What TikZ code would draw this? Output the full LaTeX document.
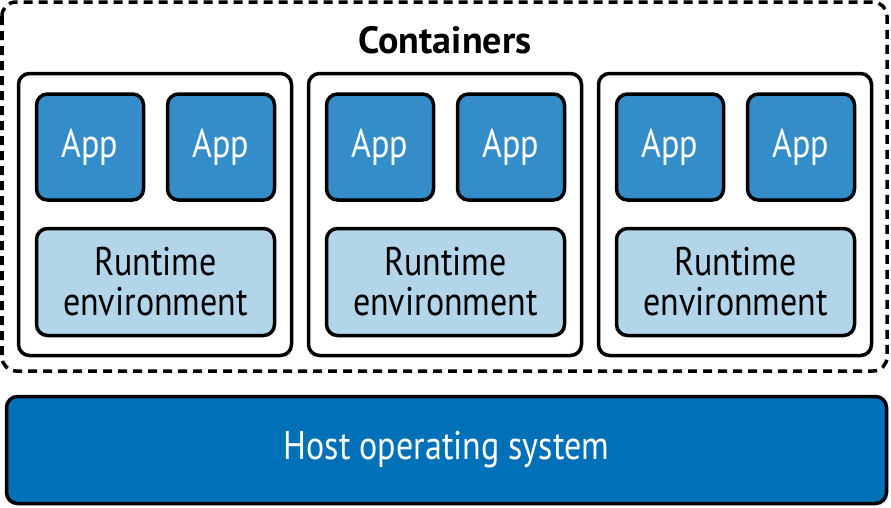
\documentclass[tikz,border=0pt]{standalone}
\usepackage{fontspec}
\setmainfont{PT Sans}[FakeStretch=0.85]
\newfontfamily\titlefont{PT Sans}
\definecolor{appblue}{RGB}{52,140,200}
\definecolor{rtblue}{RGB}{179,213,234}
\definecolor{hostblue}{RGB}{0,112,184}
\tikzset{
    box/.style={draw=black, line width=3.5pt, rounded corners=11pt, align=center, inner sep=0pt},
    appbox/.style={box, fill=appblue, text=white, minimum width=107pt, minimum height=106pt, font=\fontsize{40}{44}\selectfont},
    rtbox/.style={box, fill=rtblue, minimum width=238pt, minimum height=107pt, font=\fontsize{40}{40}\selectfont},
    cbox/.style={box, fill=white, minimum width=273pt, minimum height=282pt},
    hostbox/.style={box, fill=hostblue, text=white, minimum width=880pt, minimum height=107pt, font=\fontsize{40}{44}\selectfont},
}
\begin{document}
\begin{tikzpicture}[x=1pt, y=-1pt]
    \useasboundingbox (0,0) rectangle (891,507);

    % Dashed frame
    \draw[line width=3.5pt, dash pattern=on 9pt off 6pt, rounded corners=14pt] (2,2) rectangle (887,371);
    \node[font=\titlefont\bfseries\fontsize{38}{40}\selectfont] (title) at (445,40) {Containers};

    % Containers
    \foreach \i/\dx in {1/0, 2/290, 3/580} {
        \begin{scope}[xshift=\dx pt]
            \node[cbox] (c\i) at (155,214.5) {};
            \node[appbox] (a\i1) at (90,147) {App};
            \node[appbox] (a\i2) at (221,147) {App};
            \node[rtbox] (rt\i) at (155.5,282) {Runtime\\environment};
        \end{scope}
    }

    % Host
    \node[hostbox] (host) at (446.5,450) {Host operating system};
\end{tikzpicture}
\end{document}
